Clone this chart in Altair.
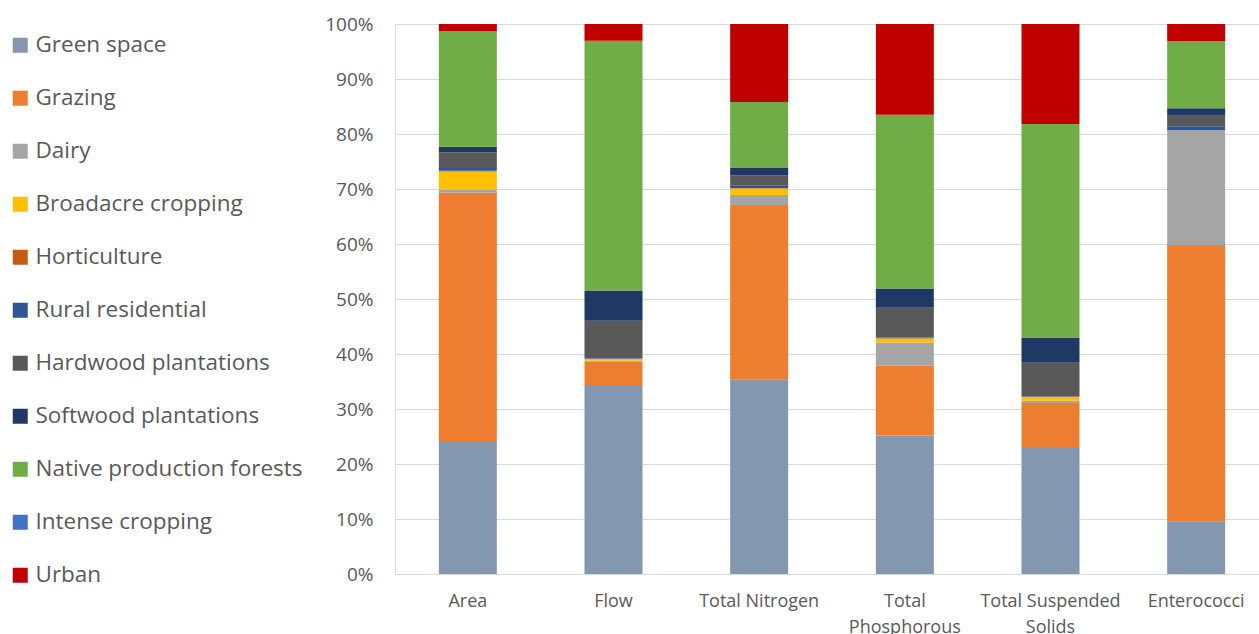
import altair as alt
import pandas as pd

categories = ["Area", "Flow", "Total Nitrogen", "Total Phosphorous", "Total Suspended Solids", "Enterococci"]
series = ["Green space", "Grazing", "Dairy", "Broadacre cropping", "Horticulture", "Rural residential",
          "Hardwood plantations", "Softwood plantations", "Native production forests", "Intense cropping", "Urban"]
colors = ["#8497B0", "#ED7D31", "#A5A5A5", "#FFC000", "#C55A11", "#2F5597",
          "#595959", "#203864", "#70AD47", "#4472C4", "#C00000"]

# percent values per series, in the order of categories
values = {
    "Green space":               [24.2, 34.2, 35.4, 25.2, 22.9, 9.6],
    "Grazing":                   [45.1, 4.4, 31.7, 12.7, 8.2, 50.2],
    "Dairy":                     [0.6, 0.2, 1.8, 4.2, 0.4, 20.9],
    "Broadacre cropping":        [3.3, 0.3, 1.2, 0.7, 0.7, 0.0],
    "Horticulture":              [0.1, 0.05, 0.1, 0.05, 0.05, 0.0],
    "Rural residential":         [0.5, 0.1, 0.5, 0.15, 0.05, 0.7],
    "Hardwood plantations":      [2.9, 6.8, 1.8, 5.4, 6.1, 1.9],
    "Softwood plantations":      [1.0, 5.5, 1.4, 3.5, 4.6, 1.4],
    "Native production forests": [20.9, 45.4, 11.9, 31.6, 38.8, 12.2],
    "Intense cropping":          [0.1, 0.0, 0.0, 0.0, 0.0, 0.0],
    "Urban":                     [1.3, 3.05, 14.2, 16.5, 18.2, 3.1],
}

rows = []
for si, s in enumerate(series):
    for ci, c in enumerate(categories):
        rows.append({"category": c, "series": s, "value": values[s][ci] / 100.0, "order": si})
df = pd.DataFrame(rows)

label_expr = ("datum.label == 'Total Phosphorous' ? ['Total', 'Phosphorous'] : "
              "datum.label == 'Total Suspended Solids' ? ['Total Suspended', 'Solids'] : datum.label")

chart = alt.Chart(df).mark_bar(size=58).encode(
    x=alt.X("category:N", sort=categories, title=None,
            scale=alt.Scale(paddingInner=0.6, paddingOuter=0.3, range=[0, 874]),
            axis=alt.Axis(labelAngle=0, labelExpr=label_expr, labelFont="Open Sans", labelFontSize=18,
                          labelColor="#595959", ticks=False, domain=True, domainColor="#D9D9D9",
                          labelPadding=18, labelLineHeight=26)),
    y=alt.Y("value:Q", stack="zero", title=None,
            scale=alt.Scale(domain=[0, 1], nice=False),
            axis=alt.Axis(format=".0%", values=[i / 10 for i in range(11)], labelFont="Open Sans",
                          labelFontSize=19, labelColor="#595959", ticks=False, domain=False,
                          gridColor="#D9D9D9", gridWidth=1, labelPadding=22)),
    color=alt.Color("series:N", scale=alt.Scale(domain=series, range=colors), title=None,
                    legend=alt.Legend(orient="none", legendX=-386, legendY=10, symbolType="square",
                                      symbolSize=225, symbolStrokeWidth=0, labelFont="Open Sans",
                                      labelFontSize=22.5, labelColor="#595959", rowPadding=30,
                                      labelOffset=4, labelLimit=400)),
    order=alt.Order("order:Q", sort="ascending"),
).properties(
    width=864, height=550,
    padding={"left": 395, "top": 24, "right": 0, "bottom": 60},
    autosize=alt.AutoSizeParams(type="none"),
).configure_view(stroke=None).configure(background="white")

chart.save("out.html", embed_options={"renderer": "svg", "actions": False})
